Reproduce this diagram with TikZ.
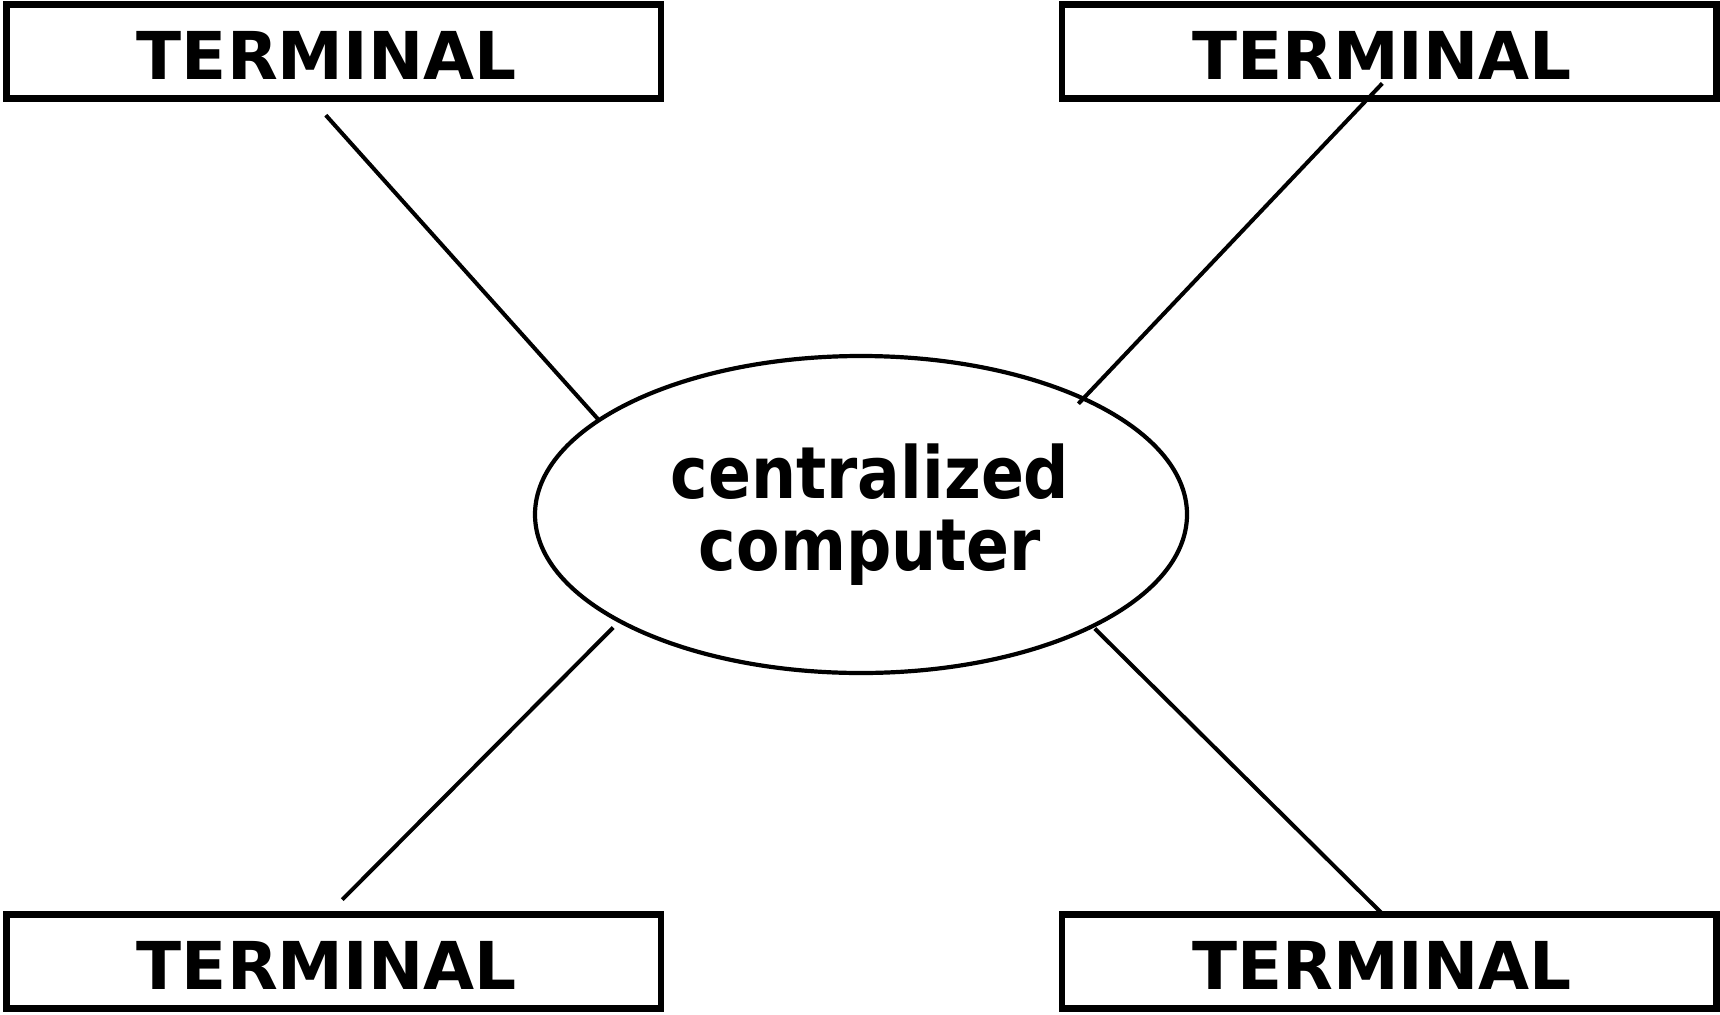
\documentclass[tikz,border=0pt]{standalone}
\usepackage{fontspec}
\usetikzlibrary{shapes.geometric}
\newfontfamily\labelfont{DejaVu Sans}
\newfontfamily\hubfont{DejaVu Sans}[FakeStretch=0.88]
\begin{document}
\begin{tikzpicture}[x=1pt,y=-1pt,
  termtext/.style={font=\labelfont\bfseries\fontsize{66}{70}\selectfont},
  termbox/.style={draw, line width=6.5pt, rectangle, inner sep=0pt,
    minimum width=654.5pt, minimum height=94pt,
    label={[termtext, xshift=-7pt, yshift=-3.5pt]center:TERMINAL}},
  hub/.style={draw, line width=4.2pt, ellipse, inner sep=0pt,
    minimum width=652pt, minimum height=317pt,
    label={[align=center, xshift=9pt,
      font=\hubfont\bfseries\fontsize{72}{71.5}\selectfont]center:centralized\\computer}},
  link/.style={line width=4pt}]
  \useasboundingbox (0,0) rectangle (1720,1014);

  % central computer
  \node[hub] (cc) at (861,514.5) {};

  % four terminals
  \node[termbox] (tl) at (333.75,51.5) {};
  \node[termbox] (tr) at (1389,51.5) {};
  \node[termbox] (bl) at (333.75,961.5) {};
  \node[termbox] (br) at (1389,961.5) {};

  % link end points
  \coordinate (tlA) at (325.8,115.2);
  \coordinate (tlB) at (597.9,419);
  \coordinate (trA) at (1382.3,83.4);
  \coordinate (trB) at (1078.4,403.7);
  \coordinate (blA) at (613.2,627.5);
  \coordinate (blB) at (342.3,899.6);
  \coordinate (brA) at (1094.8,628.6);
  \coordinate (brB) at (1381.2,912.7);

  \draw[link] (tlA) -- (tlB);
  \draw[link] (trA) -- (trB);
  \draw[link] (blA) -- (blB);
  \draw[link] (brA) -- (brB);
\end{tikzpicture}
\end{document}
